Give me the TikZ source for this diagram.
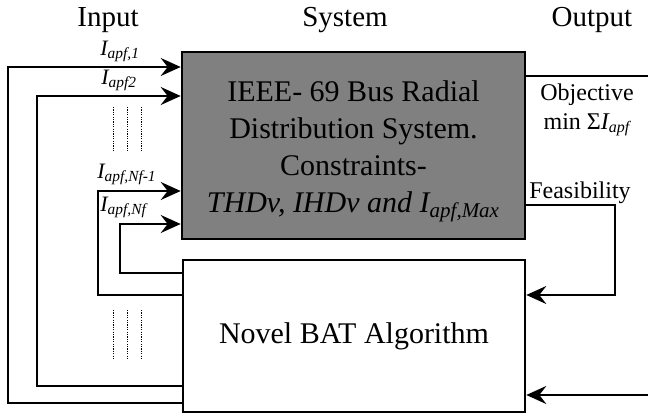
\documentclass[tikz,border=0pt]{standalone}
\usepackage{fontspec}
\setmainfont{Liberation Serif}
\usetikzlibrary{arrows.meta}

\tikzset{
  block/.style={draw=black, line width=1.3pt, inner sep=0pt, align=center},
  feed/.style={line width=1.2pt, -{Stealth[length=10pt,width=9pt,inset=3.5pt]}},
  link/.style={line width=1.2pt},
  gap/.style={line width=0.5pt, dash pattern=on 0.6pt off 0.6pt},
  head/.style={font=\fontsize{14.5}{17}\selectfont},
  lbl/.style={inner sep=0pt, font=\fontsize{11}{13}\selectfont},
  side/.style={inner sep=0pt, align=center, font=\fontsize{12}{14.5}\selectfont},
}

\begin{document}
\begin{tikzpicture}[x=0.5pt,y=-0.5pt]
    \useasboundingbox (0,0) rectangle (648,416);

    % column headings
    \node[head] (hin) at (108,20) {Input};
    \node[head] (hsys) at (345,20) {System};
    \node[head] (hout) at (592,20) {Output};

    % the two blocks
    \node[block, fill=gray, minimum width=171.5pt, minimum height=93.5pt,
          font=\fontsize{15}{18.5}\selectfont] (sys) at (353.5,145.5)
        {\rule{0pt}{16.5pt}IEEE- 69 Bus Radial\\Distribution System.\\Constraints-\\
         \textit{THDv, IHDv and I\textsubscript{apf,Max}}};
    \node[block, fill=white, minimum width=171pt, minimum height=76pt,
          font=\fontsize{15}{18.5}\selectfont] (bat) at (354,336)
        {Novel BAT Algorithm};

    % filter currents fed back from the algorithm
    \draw[feed] (bat.west |- 0,403) -| (8,67) -- (sys.west |- 0,67);
    \draw[feed] (bat.west |- 0,386) -| (37,96) -- (sys.west |- 0,96);
    \draw[feed] (bat.west |- 0,295) -| (98,191) -- (sys.west |- 0,191);
    \draw[feed] (bat.west |- 0,273) -| (120,224) -- (sys.west |- 0,224);

    \node[lbl, anchor=south west] (l1) at (100,62) {\textit{I\textsubscript{apf,1}}};
    \node[lbl, anchor=south west] (l2) at (101,91) {\textit{I\textsubscript{apf2}}};
    \node[lbl, anchor=south west] (l3) at (97,185) {\textit{I\textsubscript{apf,Nf-1}}};
    \node[lbl, anchor=south west] (l4) at (100,218) {\textit{I\textsubscript{apf,Nf}}};

    % skipped channels
    \foreach \x in {113,127,141} {
        \draw[gap] (\x,107) -- (\x,152);
        \draw[gap] (\x,310) -- (\x,360);
    }

    % outputs
    \draw[link] (sys.east |- 0,76) -- (648,76);
    \node[side] (obj) at (587,110) {Objective\\min Σ\textit{I\textsubscript{apf}}};
    \draw[feed] (sys.east |- 0,205) -| (615,295) -- (bat.east |- 0,295);
    \node[side] (fea) at (580,193) {Feasibility};
    \draw[feed] (648,395) -- (bat.east |- 0,395);
\end{tikzpicture}
\end{document}
